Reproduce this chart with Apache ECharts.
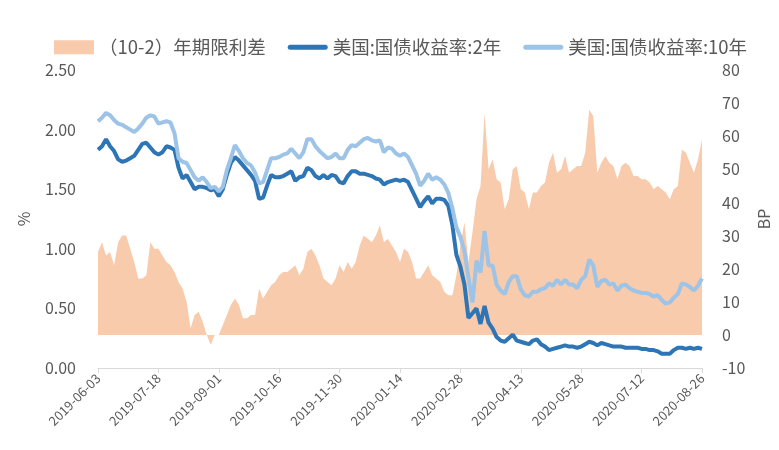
<!DOCTYPE html>
<html><head><meta charset="utf-8">
<script src="https://cdn.jsdelivr.net/npm/echarts@6/dist/echarts.min.js"></script>
<style>html,body{margin:0;padding:0;background:#fff}#c{width:779px;height:450px}</style>
</head><body><div id="c"></div>
<script>
// x categories: every 3 calendar days from 2019-06-03 to 2020-08-26
const startDate = '2019-06-03';
const stepDays = 3;
const pointCount = 151;
const tickLabels = ['2019-06-03','2019-07-18','2019-09-01','2019-10-16','2019-11-30','2020-01-14','2020-02-28','2020-04-13','2020-05-28','2020-07-12','2020-08-26'];

const seriesNames = ['（10-2）年期限利差', '美国:国债收益率:2年', '美国:国债收益率:10年'];

// (10-2) spread, BP (right axis)
const spread = [
25,28,24,25,21,28,30,30,26,22,17,17,18,28,26,26,24,22,21,19,16,14,10,2,6,7,
4,0,-3,0,0,3,6,9,11,9,5,5,6,6,14,11,13,15,16,18,19,19,20,21,18,
20,25,26,24,21,17,16,15,17,21,19,22,20,22,27,30,29,28,30,33,28,29,27,25,22,
26,25,22,17,17,19,21,18,17,16,13,12,12,18,27,34,22,31,41,45,67,50,53,47,46,
38,41,50,51,44,43,38,43,43,45,46,52,55,49,50,54,49,50,51,51,55,68,66,49,52,
54,52,51,47,51,52,51,48,48,47,47,46,44,45,44,43,41,44,45,56,55,52,49,53,59
];

// US Treasury 2Y yield, % (left axis)
const yield2y = [
1.83,1.86,1.92,1.86,1.82,1.75,1.73,1.74,1.76,1.78,1.83,1.88,1.89,1.85,1.81,1.79,1.81,1.86,1.85,1.83,1.68,1.59,1.62,1.56,1.50,1.52,
1.52,1.51,1.49,1.50,1.44,1.50,1.62,1.72,1.77,1.74,1.70,1.66,1.62,1.57,1.42,1.43,1.53,1.62,1.60,1.60,1.61,1.63,1.65,1.57,1.60,
1.61,1.68,1.66,1.61,1.59,1.62,1.59,1.62,1.61,1.56,1.55,1.61,1.65,1.65,1.63,1.63,1.62,1.61,1.59,1.58,1.54,1.56,1.57,1.58,1.57,
1.58,1.56,1.49,1.42,1.35,1.40,1.44,1.38,1.42,1.42,1.41,1.36,1.20,0.95,0.85,0.70,0.42,0.46,0.50,0.37,0.52,0.38,0.33,0.26,0.23,
0.22,0.25,0.28,0.23,0.22,0.21,0.20,0.23,0.24,0.20,0.18,0.15,0.16,0.17,0.18,0.19,0.18,0.18,0.17,0.18,0.20,0.22,0.21,0.19,0.21,
0.20,0.19,0.18,0.18,0.18,0.17,0.17,0.17,0.17,0.16,0.16,0.15,0.15,0.14,0.12,0.12,0.12,0.15,0.17,0.17,0.16,0.17,0.16,0.17,0.16
];

// US Treasury 10Y yield, % (left axis)
const yield10y = [
2.07,2.10,2.14,2.12,2.08,2.05,2.04,2.02,2.00,1.98,2.01,2.05,2.10,2.12,2.11,2.05,2.06,2.07,2.06,1.97,1.76,1.73,1.72,1.66,1.60,1.57,
1.60,1.56,1.51,1.52,1.48,1.52,1.66,1.76,1.87,1.82,1.76,1.72,1.70,1.64,1.55,1.56,1.66,1.76,1.76,1.77,1.79,1.80,1.84,1.80,1.76,
1.81,1.92,1.92,1.86,1.82,1.79,1.76,1.77,1.80,1.76,1.76,1.83,1.87,1.86,1.89,1.92,1.93,1.91,1.90,1.91,1.81,1.85,1.84,1.80,1.78,
1.80,1.77,1.70,1.63,1.53,1.57,1.63,1.58,1.60,1.58,1.54,1.47,1.34,1.18,1.10,0.98,0.76,0.55,0.90,0.80,1.15,0.86,0.86,0.70,0.65,
0.62,0.72,0.77,0.77,0.66,0.61,0.60,0.64,0.64,0.66,0.67,0.71,0.69,0.74,0.70,0.74,0.70,0.70,0.67,0.74,0.77,0.91,0.86,0.68,0.73,
0.74,0.70,0.71,0.65,0.69,0.70,0.67,0.65,0.64,0.63,0.63,0.62,0.60,0.61,0.57,0.54,0.55,0.59,0.62,0.71,0.70,0.68,0.65,0.69,0.75
];

function buildCategories(start, step, n) {
  const out = [];
  const t0 = Date.parse(start + 'T00:00:00Z');
  for (let i = 0; i < n; i++) {
    out.push(new Date(t0 + i * step * 86400000).toISOString().slice(0, 10));
  }
  return out;
}
const categories = buildCategories(startDate, stepDays, pointCount);

const FONT = '"Noto Sans CJK SC", "Noto Sans", sans-serif';
const TXT = '#595959';
// legend line icon: a 5px band centred in a 40x14 box (extra move-to points fix the box)
const LINE_ICON = 'path://M0,0 M40,14 M2.5,4.5 L37.5,4.5 A2.5,2.5,0,0,1,37.5,9.5 L2.5,9.5 A2.5,2.5,0,0,1,2.5,4.5 Z';

const chart = echarts.init(document.getElementById('c'), null, {renderer: 'canvas'});
chart.setOption({
  animation: false,
  backgroundColor: '#ffffff',
  textStyle: {fontFamily: FONT},
  legend: {
    top: 33, left: 49,
    itemWidth: 40, itemHeight: 14, itemGap: 22,
    textStyle: {color: TXT, fontSize: 18.5, fontFamily: FONT},
    data: [
      {name: seriesNames[0], icon: 'rect'},
      {name: seriesNames[1], icon: LINE_ICON},
      {name: seriesNames[2], icon: LINE_ICON}
    ]
  },
  grid: {left: 98, right: 77, top: 70, bottom: 82, outerBoundsMode: 'none'},
  xAxis: {
    type: 'category', data: categories, boundaryGap: false,
    axisLine: {lineStyle: {color: '#d9d9d9', width: 1}},
    axisTick: {interval: 14, length: 5, lineStyle: {color: '#d9d9d9'}},
    axisLabel: {interval: 14, rotate: 45, color: TXT, fontSize: 13, margin: 8, fontFamily: FONT},
    splitLine: {show: false}
  },
  yAxis: [
    {
      type: 'value', min: 0, max: 2.5, interval: 0.5,
      axisLine: {show: false}, axisTick: {show: false}, splitLine: {show: false},
      axisLabel: {formatter: v => v.toFixed(2), color: TXT, fontSize: 16, margin: 22, fontFamily: FONT},
      name: '%', nameLocation: 'middle', nameGap: 66, nameRotate: 90,
      nameTextStyle: {color: TXT, fontSize: 16, fontFamily: FONT}
    },
    {
      type: 'value', min: -10, max: 80, interval: 10, position: 'right',
      axisLine: {show: false}, axisTick: {show: false}, splitLine: {show: false},
      axisLabel: {color: TXT, fontSize: 16, margin: 20, fontFamily: FONT},
      name: 'BP', nameLocation: 'middle', nameGap: 48, nameRotate: 90,
      nameTextStyle: {color: TXT, fontSize: 16, fontFamily: FONT}
    }
  ],
  series: [
    {
      name: seriesNames[0], type: 'line', yAxisIndex: 1, data: spread,
      color: '#F8CBAD', symbol: 'none', lineStyle: {width: 0},
      areaStyle: {color: '#F8CBAD', opacity: 1}, z: 1
    },
    {
      name: seriesNames[1], type: 'line', yAxisIndex: 0, data: yield2y,
      color: '#2E75B6', symbol: 'none', lineStyle: {width: 4, color: '#2E75B6'}, z: 2
    },
    {
      name: seriesNames[2], type: 'line', yAxisIndex: 0, data: yield10y,
      color: '#9DC3E6', symbol: 'none', lineStyle: {width: 4, color: '#9DC3E6'}, z: 3
    }
  ]
});
</script>
</body></html>
